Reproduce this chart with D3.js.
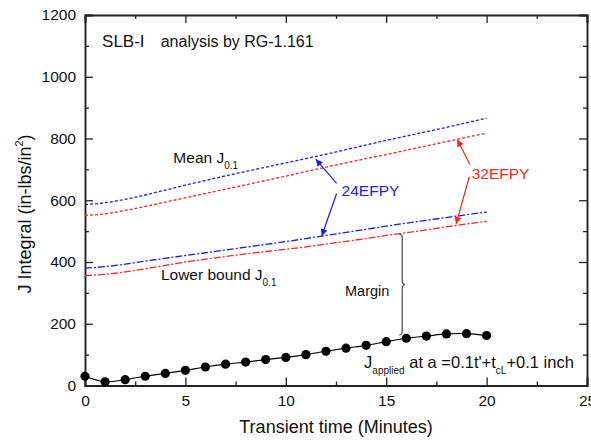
<!DOCTYPE html>
<html>
<head>
<meta charset="utf-8">
<script src="https://cdn.jsdelivr.net/npm/d3@7"></script>
<style>
  body { margin: 0; background: #fff; }
  svg text { font-family: "Liberation Sans", Arial, sans-serif; fill: #111; }
  .axis path, .axis line { stroke: #222; }
  .axis path { stroke-width: 1.9; }
  .axis line { stroke-width: 1.3; }
</style>
</head>
<body>
<svg id="chart" width="591" height="441"></svg>
<script>
// transient time, minutes
const TIME = [0, 1, 2, 3, 4, 5, 6, 7, 8, 9, 10, 11, 12, 13, 14, 15, 16, 17, 18, 19, 20];

// J integral curves, in-lbs/in^2
const MEAN_24   = [586, 592, 603, 617, 633, 649, 664, 679, 693, 707, 721, 735, 749, 764, 779, 794, 808, 822, 836, 851, 866];
const MEAN_32   = [551, 556, 567, 580, 594, 608, 622, 636, 650, 664, 678, 693, 707, 721, 735, 748, 762, 776, 790, 804, 817];
const LOWER_24  = [380, 385, 393, 403, 412, 421, 430, 439, 448, 457, 466, 476, 486, 496, 506, 516, 526, 535, 544, 553, 562];
const LOWER_32  = [356, 360, 368, 378, 389, 400, 409, 418, 426, 434, 441, 449, 458, 467, 476, 486, 495, 504, 514, 523, 532];
const J_APPLIED = [30, 12, 19, 30, 39, 49, 60, 69, 76, 84, 91, 100, 111, 121, 130, 142, 153, 160, 167, 168, 162];

const X_TICKS = [0, 5, 10, 15, 20, 25];
const Y_TICKS = [0, 200, 400, 600, 800, 1000, 1200];

// annotation anchors in data units [t, J]
const BRACE_T = 15.8;
const ARROWS_24 = [[[12.53, 655], [11.49, 733]], [[12.53, 622], [11.79, 484]]];
const ARROWS_32 = [[[19.17, 716], [18.54, 797]], [[19.14, 676], [18.48, 523]]];

const margin = { top: 15, right: 4, bottom: 55.5, left: 85 };
const W = 591, H = 441;
const innerW = W - margin.left - margin.right;
const innerH = H - margin.top - margin.bottom;

const svg = d3.select("#chart");
const g = svg.append("g").attr("transform", `translate(${margin.left},${margin.top})`);

const x = d3.scaleLinear().domain([0, 25]).range([0, innerW]);
const y = d3.scaleLinear().domain([0, 1200]).range([innerH, 0]);

// ── Axes (ticks pointing inward on all four sides) ──────────────────────────
const minorX = d3.range(0, 25.1, 2.5).filter(d => d % 5 !== 0);
const minorY = d3.range(0, 1201, 100).filter(d => d % 200 !== 0);

function frame(axisFn, scale, major, minor, transform, labels) {
    const a = g.append("g").attr("class", "axis").attr("transform", transform);
    a.call(axisFn(scale).tickValues(major).tickSize(-8).tickPadding(9)
        .tickFormat(labels ? d3.format("d") : ""));
    a.selectAll("text").attr("font-size", 15.5);
    const m = g.append("g").attr("class", "axis").attr("transform", transform);
    m.call(axisFn(scale).tickValues(minor).tickSize(-4).tickFormat(""));
    m.select("path").remove();
}
frame(d3.axisBottom, x, X_TICKS, minorX, `translate(0,${innerH})`, true);
frame(d3.axisTop, x, X_TICKS, minorX, "translate(0,0)", false);
frame(d3.axisLeft, y, Y_TICKS, minorY, "translate(0,0)", true);
frame(d3.axisRight, y, Y_TICKS, minorY, `translate(${innerW},0)`, false);

// axis titles
svg.append("text")
    .attr("x", margin.left + x(12.5)).attr("y", 433)
    .attr("text-anchor", "middle").attr("font-size", 18)
    .text("Transient time (Minutes)");

const yt = svg.append("text")
    .attr("transform", "translate(31,214) rotate(-90)")
    .attr("text-anchor", "middle").attr("font-size", 18);
yt.append("tspan").text("J Integral (in-lbs/in");
yt.append("tspan").attr("font-size", 11).attr("dy", -8).text("2");
yt.append("tspan").attr("dy", 8).text(")");

// ── Curves ─────────────────────────────────────────────────────────────────
const line = d3.line()
    .x((d, i) => x(TIME[i]))
    .y(d => y(d))
    .curve(d3.curveMonotoneX);

const CURVES = [
    { values: MEAN_24,  color: "#1a1aff", dash: "3,2" },
    { values: MEAN_32,  color: "#ff2020", dash: "3,2" },
    { values: LOWER_24, color: "#1a1aff", dash: "7,2,2,2" },
    { values: LOWER_32, color: "#ff2020", dash: "7,2,2,2" },
];
CURVES.forEach(c => {
    g.append("path")
        .datum(c.values)
        .attr("fill", "none")
        .attr("stroke", c.color)
        .attr("stroke-width", 1.3)
        .attr("stroke-dasharray", c.dash)
        .attr("d", line);
});

// applied J with markers
g.append("path")
    .datum(J_APPLIED)
    .attr("fill", "none").attr("stroke", "#000").attr("stroke-width", 1.2)
    .attr("d", line.curve(d3.curveCatmullRom));

g.selectAll("circle.applied")
    .data(J_APPLIED).join("circle")
    .attr("class", "applied")
    .attr("cx", (d, i) => x(TIME[i]))
    .attr("cy", d => y(d))
    .attr("r", 4.6)
    .attr("fill", "#000");

// ── Arrows ─────────────────────────────────────────────────────────────────
const defs = svg.append("defs");
[["blue", "#1a1aff"], ["red", "#ff2020"]].forEach(([id, col]) => {
    defs.append("marker")
        .attr("id", `head-${id}`)
        .attr("markerUnits", "userSpaceOnUse")
        .attr("viewBox", "0 0 10 10")
        .attr("refX", 10).attr("refY", 5)
        .attr("markerWidth", 8).attr("markerHeight", 7)
        .attr("orient", "auto")
        .append("path").attr("d", "M0,0L10,5L0,10Z").attr("fill", col);
});

function arrows(list, id, col) {
    list.forEach(([from, to]) => {
        g.append("line")
            .attr("x1", x(from[0])).attr("y1", y(from[1]))
            .attr("x2", x(to[0])).attr("y2", y(to[1]))
            .attr("stroke", col).attr("stroke-width", 1.2)
            .attr("marker-end", `url(#head-${id})`);
    });
}
arrows(ARROWS_24, "blue", "#1a1aff");
arrows(ARROWS_32, "red", "#ff2020");

// ── Margin brace ───────────────────────────────────────────────────────────
const interp = arr => d3.interpolateNumber(arr[Math.floor(BRACE_T)], arr[Math.ceil(BRACE_T)])(BRACE_T % 1);
const bx = x(BRACE_T), bTop = y(interp(LOWER_32)) + 1, bBot = y(interp(J_APPLIED)) - 4;
const bMid = (bTop + bBot) / 2;
g.append("path")
    .attr("fill", "none").attr("stroke", "#555").attr("stroke-width", 1.3)
    .attr("d", `M${bx - 3},${bTop} Q${bx},${bTop} ${bx},${bTop + 4} L${bx},${bMid - 4} Q${bx},${bMid} ${bx + 3},${bMid}`
        + ` Q${bx},${bMid} ${bx},${bMid + 4} L${bx},${bBot - 4} Q${bx},${bBot} ${bx - 3},${bBot}`);

// ── Labels ─────────────────────────────────────────────────────────────────
function label(t, v, size, color) {
    return g.append("text")
        .attr("x", x(t)).attr("y", y(v))
        .attr("font-size", size)
        .style("fill", color || "#111");
}
function withSub(el, main, sub, rest) {
    el.append("tspan").text(main);
    el.append("tspan").attr("font-size", 10).attr("dy", 6).text(sub);
    if (rest) el.append("tspan").attr("dy", -6).text(rest);
}

label(0.85, 1097, 17).text("SLB-I");
label(3.77, 1097, 16).text("analysis by RG-1.161");
withSub(label(4.4, 720, 15.5), "Mean J", "0.1");
withSub(label(3.78, 342, 15.5), "Lower bound J", "0.1");
label(12.78, 614, 15.5, "#1a1aff").text("24EFPY");
label(19.26, 669, 15.5, "#ff2020").text("32EFPY");
label(12.95, 290, 14.5).text("Margin");

const ja = label(13.9, 58, 16.5);
ja.append("tspan").text("J");
ja.append("tspan").attr("font-size", 10).attr("dy", 6).text("applied");
ja.append("tspan").attr("dy", -6).text(" at a =0.1t'+t");
ja.append("tspan").attr("font-size", 10).attr("dy", 6).text("cL");
ja.append("tspan").attr("dy", -6).text("+0.1 inch");
</script>
</body>
</html>
